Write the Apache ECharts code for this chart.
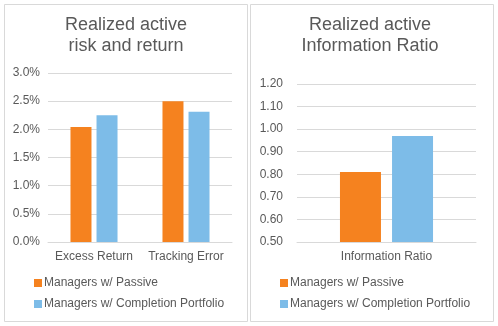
<!DOCTYPE html>
<html>
<head>
<meta charset="utf-8">
<script src="https://cdn.jsdelivr.net/npm/echarts@6/dist/echarts.min.js"></script>
<style>html,body{margin:0;padding:0;background:#fff}#c{width:498px;height:326px}</style>
</head>
<body>
<div id="c"></div>
<script>
var seriesNames = ['Managers w/ Passive', 'Managers w/ Completion Portfolio'];
var leftCategories = ['Excess Return', 'Tracking Error'];
var leftPassive = [2.04, 2.50];
var leftCompletion = [2.25, 2.31];
var leftTicks = [0, 3.0, 0.5];
var rightCategories = ['Information Ratio'];
var rightPassive = [0.81];
var rightCompletion = [0.97];
var rightTicks = [0.5, 1.2, 0.1];
var titles = ['Realized active\nrisk and return', 'Realized active\nInformation Ratio'];

var ORANGE = '#F5821F', BLUE = '#7DBCE8', TXT = '#595959', GRID = '#D9D9D9';
var FONT = '"Liberation Sans", Arial, sans-serif';

var chart = echarts.init(document.getElementById('c'), null, {renderer: 'canvas'});
function titleOpt(text, cx) {
  return {text: text, left: cx, top: 15, textAlign: 'center', padding: 0,
    textStyle: {fontFamily: FONT, fontSize: 18, fontWeight: 'normal', color: TXT, lineHeight: 21}};
}
function legendOpt(x) {
  return {data: seriesNames, orient: 'vertical', left: x, top: 277, padding: 0, itemGap: 9,
    icon: 'rect', itemWidth: 8, itemHeight: 8, selectedMode: false,
    textStyle: {fontFamily: FONT, fontSize: 12, color: TXT, padding: [0, 0, 0, -3]}};
}
var catAxisCommon = {type: 'category', axisTick: {show: false},
  axisLine: {lineStyle: {color: GRID, width: 1}},
  axisLabel: {fontFamily: FONT, fontSize: 12, color: TXT, margin: 9, interval: 0}};
var option = {
  animation: false,
  backgroundColor: '#fff',
  graphic: [
    {type: 'rect', shape: {x: 4.5, y: 4.5, width: 243, height: 317}, style: {fill: 'none', stroke: GRID, lineWidth: 1}},
    {type: 'rect', shape: {x: 250.5, y: 4.5, width: 243, height: 317}, style: {fill: 'none', stroke: GRID, lineWidth: 1}}
  ],
  title: [titleOpt(titles[0], 126), titleOpt(titles[1], 370)],
  legend: [legendOpt(34), legendOpt(280)],
  grid: [
    {left: 48, right: 266, top: 73, bottom: 84},
    {left: 297, right: 22, top: 84, bottom: 84}
  ],
  xAxis: [
    Object.assign({}, catAxisCommon, {gridIndex: 0, data: leftCategories}),
    Object.assign({}, catAxisCommon, {gridIndex: 1, data: rightCategories})
  ],
  yAxis: [
    {type: 'value', gridIndex: 0, min: leftTicks[0], max: leftTicks[1], interval: leftTicks[2],
      axisLine: {show: false}, axisTick: {show: false},
      splitLine: {lineStyle: {color: GRID}},
      axisLabel: {fontFamily: FONT, fontSize: 12, color: TXT, margin: 8, formatter: function(v){return v.toFixed(1) + '%';}}},
    {type: 'value', gridIndex: 1, min: rightTicks[0], max: rightTicks[1], interval: rightTicks[2],
      axisLine: {show: false}, axisTick: {show: false},
      splitLine: {lineStyle: {color: GRID}},
      axisLabel: {fontFamily: FONT, fontSize: 12, color: TXT, margin: 14, formatter: function(v){return v.toFixed(2);}}}
  ],
  series: [
    {name: seriesNames[0], type: 'bar', xAxisIndex: 0, yAxisIndex: 0, data: leftPassive, barWidth: 21, barGap: '24%', itemStyle: {color: ORANGE}},
    {name: seriesNames[1], type: 'bar', xAxisIndex: 0, yAxisIndex: 0, data: leftCompletion, barWidth: 21, barGap: '24%', itemStyle: {color: BLUE}},
    {name: seriesNames[0], type: 'bar', xAxisIndex: 1, yAxisIndex: 1, data: rightPassive, barWidth: 41, barGap: '27%', itemStyle: {color: ORANGE}},
    {name: seriesNames[1], type: 'bar', xAxisIndex: 1, yAxisIndex: 1, data: rightCompletion, barWidth: 41, barGap: '27%', itemStyle: {color: BLUE}}
  ]
};
chart.setOption(option);
</script>
</body>
</html>
